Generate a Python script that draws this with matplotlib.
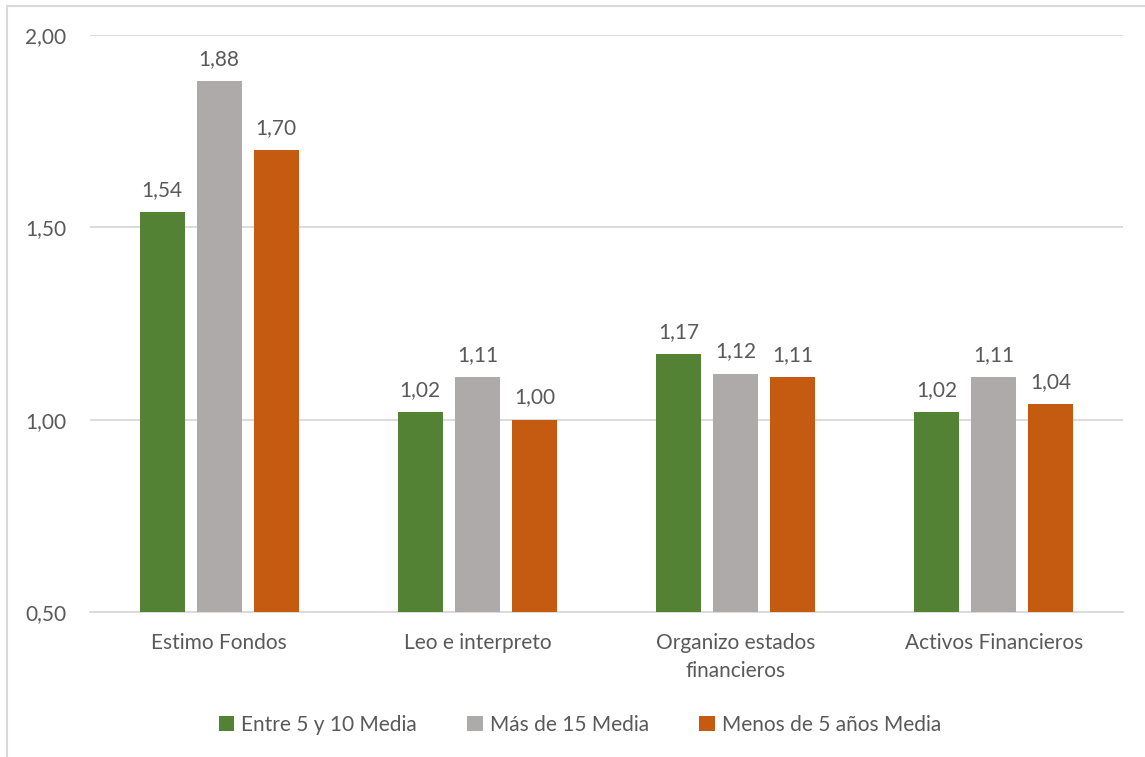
import numpy as np
import matplotlib.pyplot as plt
from matplotlib.patches import Rectangle
from matplotlib.ticker import FuncFormatter

categories = ["Estimo Fondos", "Leo e interpreto", "Organizo estados\nfinancieros", "Activos Financieros"]
series_names = ["Entre 5 y 10 Media", "Más de 15 Media", "Menos de 5 años Media"]
entre_5_10 = [1.54, 1.02, 1.17, 1.02]
mas_15 = [1.88, 1.11, 1.12, 1.11]
menos_5 = [1.70, 1.00, 1.11, 1.04]
colors = ["#548235", "#AEAAAA", "#C55A11"]

plt.rcParams['font.family'] = ['Lato', 'DejaVu Sans']
text_color = "#595959"
fs = 15

fig = plt.figure(figsize=(11.45, 7.57), dpi=100)
ax = fig.add_axes([90 / 1145, 1 - 612 / 757, (1123 - 90) / 1145, (612 - 35) / 757])

# chart frame (runs off the right and bottom edges)
fig.patches.append(Rectangle((7 / 1145, -0.05), 1.2, 1 - 6 / 757 + 0.05,
                             transform=fig.transFigure, fill=False,
                             edgecolor="#D9D9D9", linewidth=1.5))

x = np.arange(len(categories))
width = 0.174
step = 0.221
for i, (vals, name, col) in enumerate(zip([entre_5_10, mas_15, menos_5], series_names, colors)):
    pos = x + (i - 1) * step
    ax.bar(pos, [v - 0.5 for v in vals], width, bottom=0.5, color=col, label=name, zorder=3)
    for xp, v in zip(pos, vals):
        ax.text(xp, v + 0.032, f"{v:.2f}".replace(".", ","), ha="center", va="bottom",
                fontsize=fs, color=text_color)

ax.set_xlim(-0.5, len(categories) - 0.5)
ax.set_ylim(0.5, 2.0)
ax.set_yticks([0.5, 1.0, 1.5, 2.0])
ax.yaxis.set_major_formatter(FuncFormatter(lambda v, p: f"{v:.2f}".replace(".", ",")))
ax.set_xticks(x)
ax.set_xticklabels(categories, linespacing=1.5)
ax.tick_params(axis="both", length=0, labelsize=fs, labelcolor=text_color)
ax.tick_params(axis="y", pad=17)
ax.tick_params(axis="x", pad=15)
ax.grid(axis="y", color="#D9D9D9", linewidth=1.3, zorder=0)
for s in ["top", "right", "left"]:
    ax.spines[s].set_visible(False)
ax.spines["bottom"].set_color("#D9D9D9")
ax.spines["bottom"].set_linewidth(1.3)

fig.legend(loc="center", bbox_to_anchor=(580 / 1145, 1 - 725 / 757), ncol=3, frameon=False,
           fontsize=fs, labelcolor=text_color, handlelength=0.75, handleheight=0.75,
           handletextpad=0.35, columnspacing=2.4)

fig.savefig("out.png", dpi=100)
